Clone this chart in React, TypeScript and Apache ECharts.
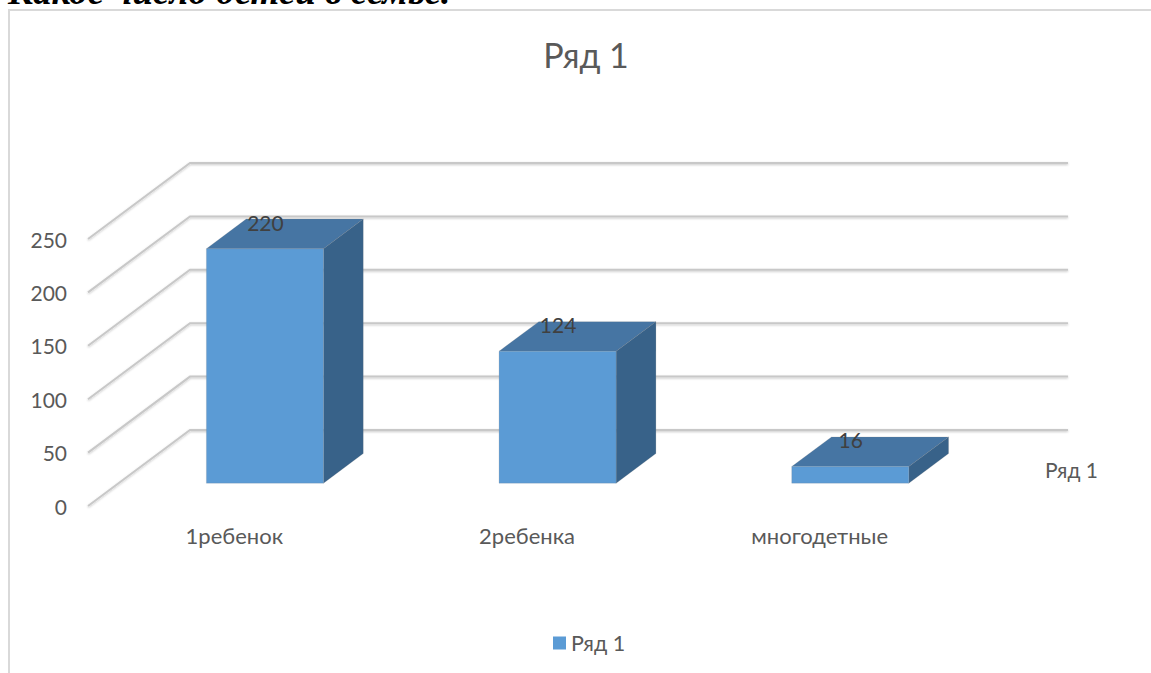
import React, { useEffect, useRef } from "react";
import * as echarts from "echarts";

const categories = ["1ребенок", "2ребенка", "многодетные"];
const seriesName = "Ряд 1";
const values = [220, 124, 16];
const gridTicks = [0, 50, 100, 150, 200, 250];
const chartTitle = "Ряд 1";
const clippedHeading = "Какое число детей в семье.";

const FONT = "Lato, 'Open Sans', sans-serif";
const DEPTH_X = 102;
const DEPTH_Y = -76;
const BAR_NEAR = 0.3;
const BAR_FAR = 0.69;
const BAR_WIDTH = 0.4;

const renderGridLine = (_: any, api: any) => {
  const v = api.value(0);
  const p = api.coord([0, v]);
  const cs = _.coordSys;
  const right = cs.x + cs.width + DEPTH_X;
  const startX = cs.x;
  const corner = [startX + DEPTH_X, p[1] + DEPTH_Y];
  return {
    type: "polyline",
    silent: true,
    shape: { points: [[startX, p[1]], corner, [right, corner[1]]] },
    style: {
      fill: "none",
      stroke: "#c8c8c8",
      lineWidth: 2,
      shadowColor: "rgba(0,0,0,0.22)",
      shadowBlur: 2,
      shadowOffsetY: 1,
    },
  };
};

const renderBar = (_: any, api: any) => {
  const idx = api.value(0);
  const val = api.value(1);
  const top = api.coord([idx, val]);
  const bottom = api.coord([idx, 0]);
  const w = api.size([1, 0])[0] * BAR_WIDTH;
  const ox = DEPTH_X * BAR_NEAR;
  const oy = DEPTH_Y * BAR_NEAR;
  const dx = DEPTH_X * (BAR_FAR - BAR_NEAR);
  const dy = DEPTH_Y * (BAR_FAR - BAR_NEAR);
  const l = top[0] + ox - w / 2;
  const r = l + w;
  const t = top[1] + oy + 0.5;
  const b = bottom[1] + oy;
  const edge = "rgba(120,120,120,0.3)";
  return {
    type: "group",
    children: [
      {
        type: "polygon",
        shape: { points: [[l, t], [r, t], [r + dx, t + dy], [l + dx, t + dy]] },
        style: { fill: "#4675a3", stroke: edge, lineWidth: 0.6 },
      },
      {
        type: "polygon",
        shape: { points: [[r, t], [r + dx, t + dy], [r + dx, b + dy], [r, b]] },
        style: { fill: "#386289", stroke: edge, lineWidth: 0.6 },
      },
      {
        type: "rect",
        shape: { x: l, y: t, width: w, height: b - t },
        style: { fill: "#5b9bd5", stroke: edge, lineWidth: 0.6 },
      },
      {
        type: "text",
        style: {
          x: (l + r) / 2 + 0.5,
          y: t + dy + 3,
          text: String(val),
          fill: "#404040",
          font: `21px ${FONT}`,
          align: "center",
          verticalAlign: "middle",
        },
      },
    ],
  };
};

export default function App() {
  const ref = useRef<HTMLDivElement>(null);
  useEffect(() => {
    document.body.style.margin = "0";
    const chart = echarts.init(ref.current!, undefined, { renderer: "svg" });
    chart.setOption({
      animation: false,
      backgroundColor: "#ffffff",
      textStyle: { fontFamily: FONT },
      title: {
        text: chartTitle,
        left: 581,
        top: 32,
        textAlign: "center",
        textStyle: { fontSize: 34, fontWeight: "normal", color: "#595959", fontFamily: FONT },
      },
      legend: {
        data: [seriesName],
        left: 553,
        top: 632,
        padding: 0,
        itemWidth: 13,
        itemHeight: 13,
        itemGap: 7,
        icon: "rect",
        textStyle: { fontSize: 21.5, color: "#595959", fontFamily: FONT },
      },
      grid: { left: 88, top: 239, width: 878, height: 267 },
      xAxis: {
        type: "category",
        data: categories,
        axisLine: { show: false },
        axisTick: { show: false },
        splitLine: { show: false },
        axisLabel: { fontSize: 22, color: "#595959", margin: 18, fontFamily: FONT },
      },
      yAxis: {
        type: "value",
        min: 0,
        max: 250,
        interval: 50,
        axisLine: { show: false },
        axisTick: { show: false },
        splitLine: { show: false },
        axisLabel: { fontSize: 21, color: "#595959", margin: 21, fontFamily: FONT },
      },
      graphic: [
        {
          type: "rect",
          z: -1,
          shape: { x: 9, y: 10, width: 1300, height: 800 },
          style: { fill: "none", stroke: "#d9d9d9", lineWidth: 2 },
        },
        {
          type: "text",
          x: 8,
          y: -27,
          style: {
            text: clippedHeading,
            fill: "#000000",
            font: `italic bold 37px 'Liberation Serif', serif`,
          },
        },
        {
          type: "text",
          x: 1045,
          y: 459,
          style: { text: seriesName, fill: "#595959", font: `21px ${FONT}` },
        },
      ],
      series: [
        {
          type: "custom",
          name: "grid",
          silent: true,
          data: gridTicks.map((v) => [v]),
          encode: { y: 0 },
          renderItem: renderGridLine,
          z: 1,
        },
        {
          type: "custom",
          name: seriesName,
          data: values.map((v, i) => [i, v]),
          encode: { x: 0, y: 1 },
          itemStyle: { color: "#5b9bd5" },
          renderItem: renderBar,
          z: 2,
        },
      ],
    });
    return () => chart.dispose();
  }, []);
  return <div ref={ref} style={{ width: 1151, height: 673 }} />;
}
